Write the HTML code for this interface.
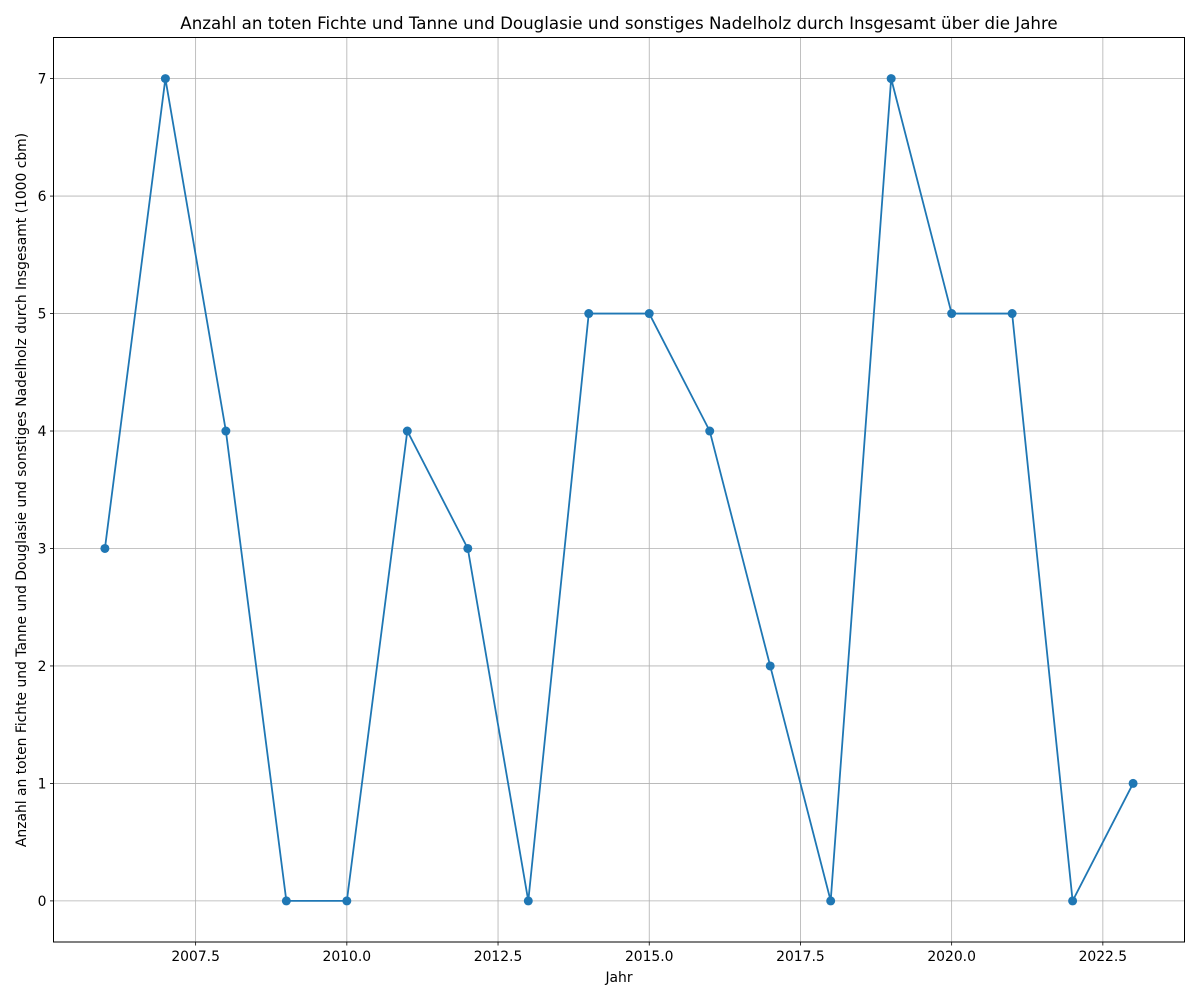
<!DOCTYPE html>
<html><head><meta charset="utf-8"><style>body{margin:0;background:#fff}svg{display:block;font-family:"DejaVu Sans","Liberation Sans",sans-serif}</style></head>
<body>
<svg id="chart" width="1200" height="1000">
<rect x="0" y="0" width="1200" height="1000" fill="#fff"/>
<g id="grid"></g>
<g id="series"></g>
<rect x="53.5" y="37.5" width="1131" height="904.5" fill="none" stroke="#000" stroke-width="1"/>
<g id="ticks"></g>
<text x="619" y="29" font-size="16.67" text-anchor="middle">Anzahl an toten Fichte und Tanne und Douglasie und sonstiges Nadelholz durch Insgesamt über die Jahre</text>
<text x="619" y="982" font-size="13.89" text-anchor="middle">Jahr</text>
<text transform="translate(26,490) rotate(-90)" font-size="13.89" text-anchor="middle">Anzahl an toten Fichte und Tanne und Douglasie und sonstiges Nadelholz durch Insgesamt (1000 cbm)</text>
</svg>
<script>
const years = [2006,2007,2008,2009,2010,2011,2012,2013,2014,2015,2016,2017,2018,2019,2020,2021,2022,2023];
const values = [3,7,4,0,0,4,3,0,5,5,4,2,0,7,5,5,0,1];
const xTicks = [2007.5,2010.0,2012.5,2015.0,2017.5,2020.0,2022.5];
const xTickLabels = ["2007.5","2010.0","2012.5","2015.0","2017.5","2020.0","2022.5"];
const yTicks = [0,1,2,3,4,5,6,7];
const yTickLabels = ["0","1","2","3","4","5","6","7"];

const L=53.5,R=1184.5,T=37.5,B=942;
const xMin=2005.15,xMax=2023.85,yMin=-0.35,yMax=7.35;
const sx=v=>L+(v-xMin)/(xMax-xMin)*(R-L);
const sy=v=>B-(v-yMin)/(yMax-yMin)*(B-T);
const NS="http://www.w3.org/2000/svg";
function mk(tag,attrs,parent){const e=document.createElementNS(NS,tag);for(const k in attrs)e.setAttribute(k,attrs[k]);parent.appendChild(e);return e;}
const grid=document.getElementById('grid'),ticks=document.getElementById('ticks'),series=document.getElementById('series');
xTicks.forEach((t,i)=>{const x=sx(t);
 const g=mk('line',{x1:x,x2:x,y1:T,y2:B,stroke:'#b0b0b0','stroke-width':0.8},grid);
 
 const tk=mk('line',{x1:x,x2:x,y1:B,y2:B+3.5,stroke:'#000','stroke-width':0.8},ticks);
 
 const tx=mk('text',{x:x,y:B+19,'font-size':13.89,'text-anchor':'middle'},ticks);tx.textContent=xTickLabels[i];
 });
yTicks.forEach((t,i)=>{const y=sy(t);
 const g=mk('line',{x1:L,x2:R,y1:y,y2:y,stroke:'#b0b0b0','stroke-width':0.8},grid);
 
 const tk=mk('line',{x1:L-3.5,x2:L,y1:y,y2:y,stroke:'#000','stroke-width':0.8},ticks);
 
 const tx=mk('text',{x:L-7,y:y+5,'font-size':13.89,'text-anchor':'end'},ticks);tx.textContent=yTickLabels[i];
 });
const pts=years.map((yr,i)=>sx(yr)+','+sy(values[i])).join(' ');
const pl=mk('polyline',{points:pts,fill:'none',stroke:'#1f77b4','stroke-width':1.8},series);

years.forEach((yr,i)=>{const c=mk('circle',{cx:sx(yr),cy:sy(values[i]),r:4.5,fill:'#1f77b4'},series);
 });
</script>
</body></html>
